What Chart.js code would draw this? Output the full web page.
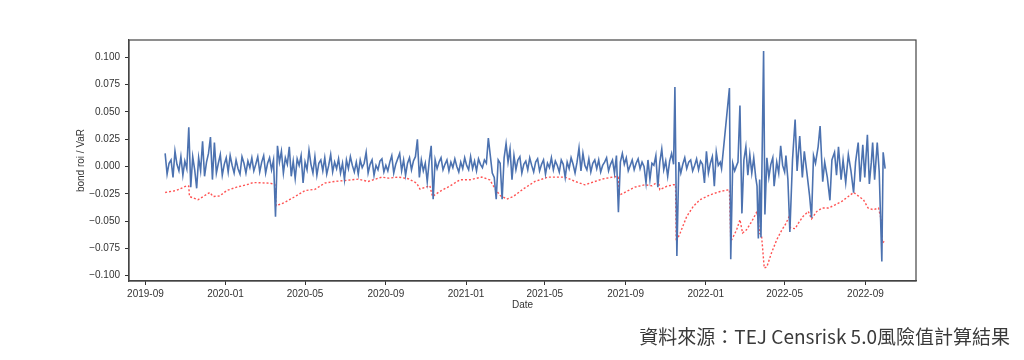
<!DOCTYPE html>
<html>
<head>
<meta charset="utf-8">
<script src="https://cdn.jsdelivr.net/npm/chart.js@4.4.1/dist/chart.umd.min.js"></script>
<style>
  body { margin: 0; background: #fff; }
  #wrap { position: relative; width: 1024px; height: 360px; }
  #source {
    position: absolute; right: 14px; top: 322px;
    font-family: "Noto Sans CJK TC", "Noto Sans", sans-serif;
    font-size: 19px; color: #3a3a3a; white-space: nowrap;
  }
</style>
</head>
<body>
<div id="wrap">
  <canvas id="roiChart" width="1024" height="360"></canvas>
  <div id="source">資料來源：TEJ Censrisk 5.0風險值計算結果</div>
</div>
<script>
// x values are days counted from 2019-09-01
const tickDays = [0, 122, 243, 366, 488, 608, 731, 853, 973, 1096];
const tickLabels = ["2019-09", "2020-01", "2020-05", "2020-09", "2021-01",
    "2021-05", "2021-09", "2022-01", "2022-05", "2022-09"];
const yTicks = [-0.1, -0.075, -0.05, -0.025, 0, 0.025, 0.05, 0.075, 0.1];

// bond daily return
const roiDays = [
    30, 33, 36, 39, 42, 45, 48, 51, 54, 57,
    60, 63, 66, 69, 72, 75, 78, 81, 84, 87,
    90, 93, 96, 99, 102, 105, 108, 111, 114, 117,
    120, 123, 126, 129, 132, 135, 138, 141, 144, 147,
    150, 153, 156, 159, 162, 165, 168, 171, 174, 177,
    180, 183, 186, 189, 192, 195, 198, 201, 204, 207,
    210, 213, 216, 219, 222, 225, 228, 231, 234, 237,
    240, 243, 246, 249, 252, 255, 258, 261, 264, 267,
    270, 273, 276, 279, 282, 285, 288, 291, 294, 297,
    300, 303, 306, 309, 312, 315, 318, 321, 324, 327,
    330, 333, 336, 339, 342, 345, 348, 351, 354, 357,
    360, 363, 366, 369, 372, 375, 378, 381, 384, 387,
    390, 393, 396, 399, 402, 405, 408, 411, 414, 417,
    420, 423, 426, 429, 432, 435, 438, 441, 444, 447,
    450, 453, 456, 459, 462, 465, 468, 471, 474, 477,
    480, 483, 486, 489, 492, 495, 498, 501, 504, 507,
    510, 513, 516, 519, 522, 525, 528, 531, 534, 537,
    540, 543, 546, 549, 552, 555, 558, 561, 564, 567,
    570, 573, 576, 579, 582, 585, 588, 591, 594, 597,
    600, 603, 606, 609, 612, 615, 618, 621, 624, 627,
    630, 633, 636, 639, 642, 645, 648, 651, 654, 657,
    660, 663, 666, 669, 672, 675, 678, 681, 684, 687,
    690, 693, 696, 699, 702, 705, 708, 711, 714, 717,
    720, 723, 726, 729, 732, 735, 738, 741, 744, 747,
    750, 753, 756, 759, 762, 765, 768, 771, 774, 777,
    780, 783, 786, 789, 792, 795, 798, 801, 804,
    806, 809, 812, 815, 818, 821, 824, 827, 830, 833,
    836, 839, 842, 845, 848, 851, 854, 857, 860, 863,
    866, 869, 872, 875, 877, 889, 891, 894, 897, 900,
    902, 905, 908, 911, 914, 917, 920, 923, 926, 929,
    931, 933, 935, 937, 941, 943, 946, 949, 952, 955,
    957, 961, 964, 967, 970, 973, 975, 978, 981, 985,
    989, 992, 996, 1000, 1003, 1007, 1011, 1014, 1017, 1020,
    1024, 1027, 1031, 1034, 1038, 1042, 1045, 1049, 1052, 1055,
    1059, 1062, 1066, 1070, 1074, 1078, 1081, 1085, 1088, 1092,
    1095, 1099, 1102, 1105, 1107, 1110, 1114, 1117, 1121, 1123,
    1126
];
const roiValues = [
    0.012, -0.007, 0.003, 0.006, -0.010, 0.014, 0.002, -0.004, 0.009, -0.008,
    0.005, -0.002, 0.036, -0.019, 0.009, -0.003, -0.020, 0.008, -0.004, 0.023,
    -0.009, 0.004, 0.012, 0.027, -0.012, 0.022, -0.006, 0.003, 0.011, -0.008,
    0.002, 0.008, -0.005, 0.010, 0.001, -0.006, 0.006, -0.002, -0.007, 0.009,
    0.003, -0.006, 0.005, -0.001, 0.008, -0.004, 0.002, 0.009, -0.005, 0.004,
    0.010, -0.006, 0.003, 0.008, -0.003, 0.006, -0.046, 0.019, 0.004, 0.014,
    -0.006, 0.008, 0.002, 0.018, -0.009, 0.005, -0.011, 0.007, 0.001, 0.010,
    -0.015, 0.004, -0.003, 0.015, 0.002, -0.006, 0.009, -0.008, 0.003, 0.006,
    -0.004, 0.008, -0.007, 0.001, 0.011, -0.005, 0.004, -0.002, 0.007, -0.006,
    0.003, -0.012, 0.006, -0.002, 0.009, 0.001, -0.005, 0.004, -0.007, 0.006,
    -0.001, 0.003, 0.013, -0.006, 0.002, 0.006, -0.008, 0.001, -0.003, 0.005,
    0.007, -0.005, 0.001, -0.004, 0.004, 0.010, -0.006, 0.002, 0.007, 0.012,
    -0.004, 0.006, -0.008, 0.003, 0.008, -0.003, 0.005, 0.009, 0.025, -0.010,
    0.006, -0.004, 0.003, -0.014, 0.005, 0.019, -0.030, 0.006, -0.002, 0.004,
    0.008, -0.003, 0.002, 0.006, -0.004, 0.004, -0.001, 0.007, 0.000, -0.005,
    0.004, -0.002, 0.008, 0.001, -0.003, 0.009, -0.002, 0.005, -0.004, 0.007,
    0.002, -0.001, 0.006, 0.003, 0.026, 0.010, -0.006, -0.010, -0.030, 0.006,
    0.003, -0.030, 0.008, 0.021, 0.004, 0.016, -0.012, 0.010, -0.003, 0.006,
    0.009, -0.006, 0.002, 0.005, -0.003, 0.008, 0.001, -0.005, 0.004, 0.007,
    -0.004, 0.002, 0.006, -0.007, 0.003, -0.001, 0.008, -0.003, 0.005, 0.001,
    -0.005, 0.006, 0.002, -0.010, 0.004, -0.002, 0.008, 0.002, -0.006, 0.004,
    0.017, -0.004, 0.012, 0.001, -0.003, 0.007, -0.005, 0.003, 0.006, -0.002,
    0.006, -0.005, 0.001, 0.004, 0.008, -0.004, 0.002, 0.006, -0.006, 0.010,
    -0.042, 0.004, 0.012, 0.002, 0.008, -0.004, 0.001, 0.006, -0.003, 0.003,
    0.007, -0.002, 0.004, 0.000, -0.015, 0.006, -0.012, 0.003, 0.001, 0.010,
    -0.019, 0.004, 0.016, -0.003, 0.005, -0.009, 0.005, 0.012, 0.002,
    0.073, -0.082, 0.004, -0.006, 0.002, 0.008, -0.002, 0.004, 0.006, -0.004,
    0.001, 0.007, -0.003, 0.005, 0.002, -0.015, 0.014, -0.006, 0.003, 0.009,
    -0.018, 0.013, 0.001, 0.004, -0.002, 0.072, -0.085, 0.003, -0.004, 0.001,
    0.004, 0.056, -0.043, 0.006, 0.018, -0.008, 0.011, -0.006, 0.008, -0.010,
    -0.018, -0.066, -0.012, -0.065, 0.106, -0.044, 0.008, -0.010, 0.002, 0.008,
    -0.018, 0.004, -0.006, 0.019, 0.001, -0.005, 0.010, -0.012, -0.060, 0.006,
    0.043, -0.004, 0.028, -0.010, 0.014, -0.006, -0.027, -0.047, 0.010, 0.003,
    0.018, 0.037, -0.014, 0.004, -0.010, -0.031, 0.006, 0.013, -0.008, 0.018,
    -0.012, 0.006, -0.015, 0.011, -0.004, -0.024, 0.004, 0.022, -0.014, 0.020,
    -0.010, 0.029, -0.016, 0.004, 0.022, -0.012, 0.022, -0.005, -0.087, 0.013,
    -0.002
];

// value at risk
const varDays = [
    30, 47, 63, 66, 67, 80, 88, 98, 103, 113,
    124, 139, 154, 164, 190, 197, 199, 212, 228, 243,
    258, 273, 288, 304, 324, 339, 360, 370, 385, 400,
    413, 418, 433, 437, 448, 464, 479, 494, 512, 524,
    534, 540, 550, 560, 575, 593, 613, 639, 654, 669,
    695, 715, 720, 721, 745, 760, 771, 781, 783, 793,
    803, 807, 808, 814, 824, 834, 844, 860, 875, 889,
    891, 895, 900, 905, 909, 915, 923, 931, 935, 938,
    942, 946, 953, 961, 969, 974, 980, 982, 989, 994,
    1001, 1009, 1014, 1022, 1030, 1040, 1050, 1060, 1070, 1078,
    1085, 1093, 1100, 1108, 1116, 1120, 1122, 1124, 1125
];
const varValues = [
    -0.0238, -0.022, -0.0177, -0.018, -0.0275, -0.0305, -0.0275, -0.0238, -0.0275, -0.027,
    -0.022, -0.0189, -0.0168, -0.0147, -0.0153, -0.0165, -0.036, -0.033, -0.0275, -0.022,
    -0.021, -0.0152, -0.0137, -0.0128, -0.0116, -0.0137, -0.0097, -0.0107, -0.0097, -0.0112,
    -0.0153, -0.0207, -0.0177, -0.0275, -0.0229, -0.0177, -0.0122, -0.0122, -0.0097, -0.0122,
    -0.022, -0.0266, -0.0299, -0.0275, -0.0207, -0.0137, -0.0097, -0.0097, -0.0137, -0.0168,
    -0.0116, -0.0092, -0.0098, -0.0265, -0.0189, -0.0168, -0.0177, -0.0137, -0.0213, -0.0183,
    -0.0168, -0.0168, -0.0687, -0.061, -0.0458, -0.0366, -0.0305, -0.0259, -0.0229, -0.0213,
    -0.0687, -0.0641, -0.058, -0.0488, -0.061, -0.058, -0.0504, -0.0412, -0.061, -0.0641,
    -0.0931, -0.092, -0.0793, -0.0672, -0.058, -0.0534, -0.0458, -0.0564, -0.057, -0.0519,
    -0.0458, -0.0412, -0.048, -0.0412, -0.0381, -0.0381, -0.0351, -0.032, -0.0275, -0.0238,
    -0.0269, -0.0305, -0.0381, -0.0397, -0.0381, -0.0488, -0.0702, -0.069, -0.0672
];

const axisColor = "#333";
const tickFont = { family: "'Liberation Sans', Arial, sans-serif", size: 10 };

// matplotlib style box around the plot area
const frameBox = {
    id: "frameBox",
    afterDatasetsDraw(chart) {
        const { ctx, chartArea: a } = chart;
        ctx.save();
        ctx.strokeStyle = "#444";
        ctx.lineWidth = 1.2;
        ctx.strokeRect(a.left, a.top, a.right - a.left, a.bottom - a.top);
        ctx.restore();
    },
};

new Chart(document.getElementById("roiChart"), {
    type: "line",
    data: {
        datasets: [
            {
                label: "bond roi",
                data: roiDays.map((d, i) => ({ x: d, y: roiValues[i] })),
                borderColor: "#4c72b0",
                borderWidth: 1.6,
                pointRadius: 0,
                tension: 0,
            },
            {
                label: "VaR",
                data: varDays.map((d, i) => ({ x: d, y: varValues[i] })),
                borderColor: "rgba(255, 40, 40, 0.8)",
                borderWidth: 1.4,
                borderDash: [2, 2],
                pointRadius: 0,
                tension: 0,
            },
        ],
    },
    options: {
        responsive: false,
        animation: false,
        layout: { padding: { top: 40, right: 108, left: 0, bottom: 0 } },
        plugins: { legend: { display: false }, tooltip: { enabled: false } },
        scales: {
            x: {
                type: "linear",
                min: -25,
                max: 1173,
                afterFit: (scale) => { scale.height = 79; },
                afterBuildTicks: (scale) => {
                    scale.ticks = tickDays.map((v) => ({ value: v }));
                },
                ticks: {
                    autoSkip: false,
                    maxRotation: 0,
                    padding: 3,
                    color: axisColor,
                    font: tickFont,
                    callback: (v) => tickLabels[tickDays.indexOf(v)],
                },
                grid: { drawOnChartArea: false, tickLength: 4, tickColor: axisColor },
                border: { color: "#444", width: 1.2 },
                title: {
                    display: true,
                    text: "Date",
                    color: axisColor,
                    font: tickFont,
                    padding: { top: 0, bottom: 49 },
                },
            },
            y: {
                type: "linear",
                min: -0.105,
                max: 0.116,
                afterFit: (scale) => { scale.width = 129; },
                afterBuildTicks: (scale) => {
                    scale.ticks = yTicks.map((v) => ({ value: v }));
                },
                ticks: {
                    padding: 5,
                    color: axisColor,
                    font: tickFont,
                    callback: (v) => v.toFixed(3).replace("-", "\u2212"),
                },
                grid: { drawOnChartArea: false, tickLength: 4, tickColor: axisColor },
                border: { color: "#444", width: 1.2 },
                title: {
                    display: true,
                    text: "bond roi / VaR",
                    color: axisColor,
                    font: tickFont,
                    padding: { top: 75, bottom: 0 },
                },
            },
        },
    },
    plugins: [frameBox],
});
</script>
</body>
</html>
